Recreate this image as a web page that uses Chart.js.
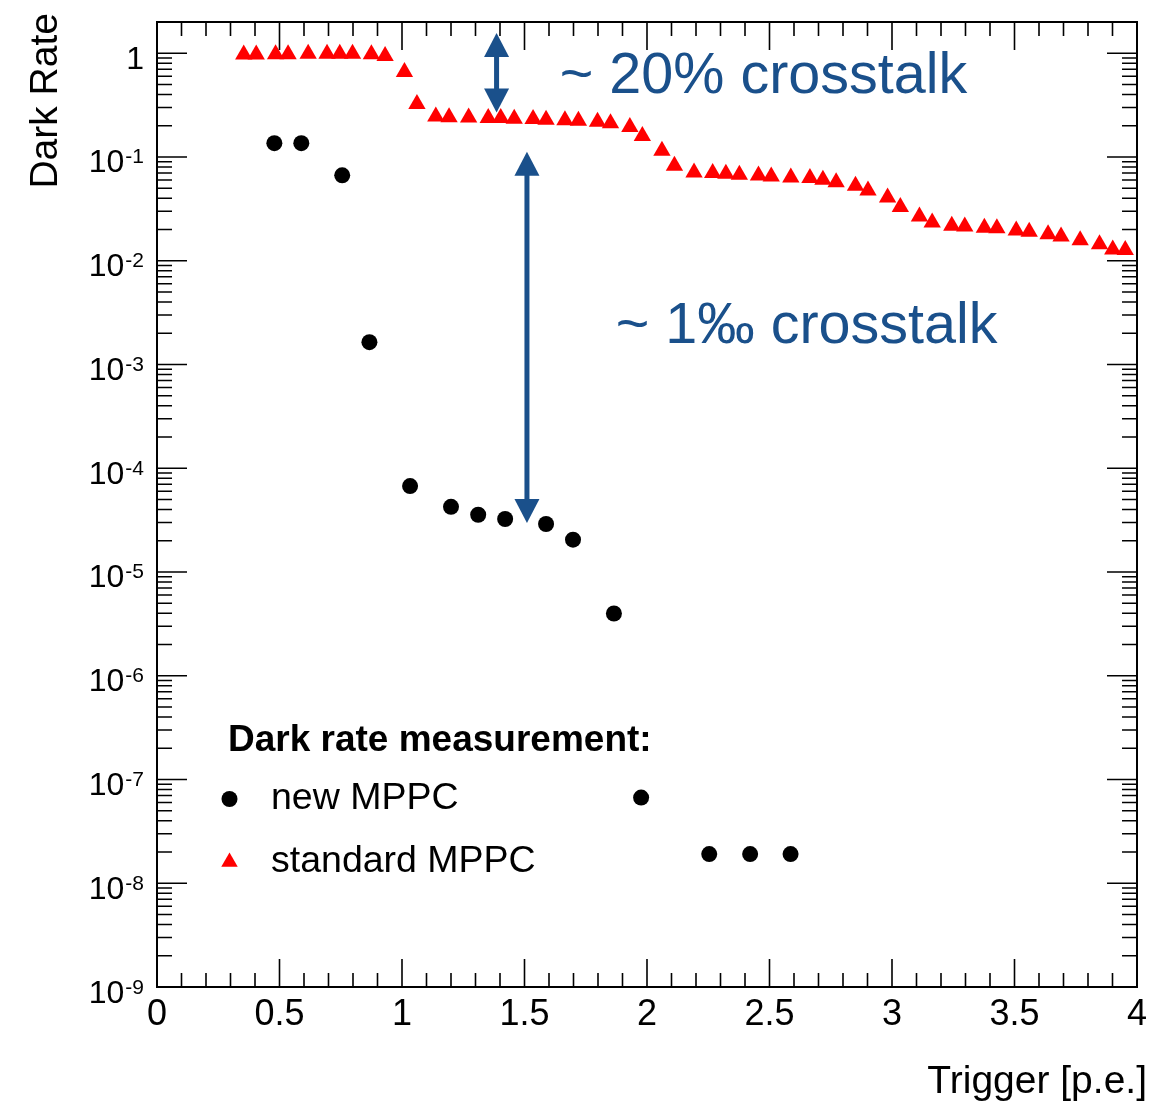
<!DOCTYPE html>
<html lang="en">
<head>
  <meta charset="UTF-8" />
  <title>Dark Rate vs Trigger</title>
  <script src="https://cdn.jsdelivr.net/npm/chart.js"></script>
  <style>
    html, body { margin: 0; padding: 0; background: #fff; }
    #chart { display: block; }
  </style>
</head>
<body>
  <canvas id="chart" width="1160" height="1104"></canvas>

  <script>
    // new MPPC (black circles)
    const newTrigger = [0.479, 0.589, 0.756, 0.867, 1.033, 1.200, 1.311, 1.421, 1.588, 1.698, 1.865, 1.976, 2.254, 2.421, 2.586];
    const newRate = [0.136, 0.136, 0.0666, 1.64e-3, 6.73e-5, 4.25e-5, 3.56e-5, 3.24e-5, 2.90e-5, 2.05e-5, 3.98e-6, 6.70e-8, 1.91e-8, 1.91e-8, 1.91e-8];

    // standard MPPC (red triangles)
    const stdTrigger = [0.354, 0.405, 0.484, 0.535, 0.617, 0.694, 0.746, 0.798, 0.875, 0.931,
      1.010, 1.061, 1.138, 1.192, 1.272, 1.352, 1.403, 1.458, 1.535, 1.588,
      1.665, 1.720, 1.798, 1.851, 1.930, 1.981, 2.061, 2.112, 2.192, 2.268,
      2.322, 2.377, 2.455, 2.507, 2.587, 2.665, 2.718, 2.772, 2.851, 2.902,
      2.982, 3.034, 3.112, 3.164, 3.244, 3.297, 3.377, 3.428, 3.507, 3.560,
      3.637, 3.690, 3.768, 3.847, 3.901, 3.952];
    const stdRate = [0.97, 0.97, 0.98, 0.98, 0.99, 0.99, 0.99, 0.99, 0.98, 0.94,
      0.66, 0.324, 0.245, 0.242, 0.240, 0.237, 0.237, 0.233, 0.232, 0.229,
      0.226, 0.223, 0.218, 0.212, 0.194, 0.159, 0.1146, 0.0824, 0.0710, 0.0700,
      0.0688, 0.0675, 0.0664, 0.0650, 0.0633, 0.0626, 0.0604, 0.0571, 0.0528, 0.0476,
      0.0406, 0.0330, 0.0267, 0.0234, 0.0217, 0.0214, 0.0208, 0.0206, 0.0196, 0.0190,
      0.0180, 0.0171, 0.0158, 0.0144, 0.0128, 0.0127];

    const xTickValues = [0, 0.5, 1, 1.5, 2, 2.5, 3, 3.5, 4];
    const yDecades = [0, -1, -2, -3, -4, -5, -6, -7, -8, -9];

    // annotations, in data units
    const arrowX = [1.386, 1.510];
    const arrowFrom = [1.57, 0.1125];
    const arrowTo = [0.268, 2.97e-5];
    const noteText = ['~ 20% crosstalk', '~ 1\u2030 crosstalk'];
    const noteX = [1.644, 1.872];
    const noteY = [0.416, 1.6e-3];

    const FONT = "'Liberation Sans', Arial, Helvetica, sans-serif";
    const BLUE = '#1a508b';

    function triangle(ctx, x, y, r) {
      ctx.beginPath();
      ctx.moveTo(x, y - r);
      ctx.lineTo(x + r * 0.866, y + r * 0.5);
      ctx.lineTo(x - r * 0.866, y + r * 0.5);
      ctx.closePath();
      ctx.fill();
    }

    function drawArrow(ctx, px, y1, y2) {
      const head = 24, half = 12.5;
      ctx.fillStyle = BLUE;
      ctx.fillRect(px - 2.5, y1 + head - 2, 5, y2 - y1 - 2 * head + 4);
      ctx.beginPath();
      ctx.moveTo(px, y1);
      ctx.lineTo(px + half, y1 + head);
      ctx.lineTo(px - half, y1 + head);
      ctx.closePath();
      ctx.fill();
      ctx.beginPath();
      ctx.moveTo(px, y2);
      ctx.lineTo(px + half, y2 - head);
      ctx.lineTo(px - half, y2 - head);
      ctx.closePath();
      ctx.fill();
    }

    // ROOT-like frame: ticks inside on all four sides, labels, annotations
    const rootStyle = {
      id: 'rootStyle',
      afterDatasetsDraw(chart) {
        const { ctx, chartArea: a, scales: { x, y } } = chart;
        ctx.save();

        // arrows
        arrowX.forEach((v, i) => {
          drawArrow(ctx, x.getPixelForValue(v), y.getPixelForValue(arrowFrom[i]), y.getPixelForValue(arrowTo[i]));
        });

        // crosstalk notes
        ctx.fillStyle = BLUE;
        ctx.font = `57.5px ${FONT}`;
        ctx.textAlign = 'left';
        ctx.textBaseline = 'alphabetic';
        noteText.forEach((t, i) => {
          ctx.fillText(t, x.getPixelForValue(noteX[i]), y.getPixelForValue(noteY[i]));
        });

        // frame
        ctx.strokeStyle = '#000';
        ctx.lineWidth = 2;
        ctx.strokeRect(a.left, a.top, a.right - a.left, a.bottom - a.top);

        // x ticks (minor every 0.1, major every 0.5)
        ctx.lineWidth = 1.6;
        ctx.beginPath();
        for (let i = 1; i < 40; i++) {
          const px = x.getPixelForValue(i / 10);
          const len = i % 5 === 0 ? 28 : 14;
          ctx.moveTo(px, a.bottom); ctx.lineTo(px, a.bottom - len);
          ctx.moveTo(px, a.top); ctx.lineTo(px, a.top + len);
        }
        // y ticks (log)
        yDecades.forEach(e => {
          for (let m = 1; m <= 9; m++) {
            const v = m * Math.pow(10, e);
            if (v >= y.max) break;
            const py = y.getPixelForValue(v);
            const len = m === 1 ? 30 : 15;
            ctx.moveTo(a.left, py); ctx.lineTo(a.left + len, py);
            ctx.moveTo(a.right, py); ctx.lineTo(a.right - len, py);
          }
        });
        ctx.stroke();
        ctx.restore();
      },
      afterDraw(chart) {
        const { ctx, chartArea: a, scales: { y } } = chart;
        ctx.save();
        ctx.fillStyle = '#000';
        ctx.textBaseline = 'alphabetic';
        ctx.textAlign = 'right';

        // y tick labels with superscript exponent
        const right = a.left - 13;
        yDecades.forEach(e => {
          const base = y.getPixelForValue(Math.pow(10, e)) + 15.5;
          if (e === 0) {
            ctx.font = `32px ${FONT}`;
            ctx.fillText('1', right, base);
            return;
          }
          const exp = String(e);
          ctx.font = `21px ${FONT}`;
          const w = ctx.measureText(exp).width;
          ctx.fillText(exp, right, base - 9);
          ctx.font = `32px ${FONT}`;
          ctx.fillText('10', right - w - 1, base);
        });

        // axis titles
        ctx.font = `39px ${FONT}`;
        ctx.fillText('Trigger [p.e.]', a.right + 10, 1093);
        ctx.save();
        ctx.translate(57, 13);
        ctx.rotate(-Math.PI / 2);
        ctx.textAlign = 'right';
        ctx.fillText('Dark Rate', 0, 0);
        ctx.restore();

        // legend
        const lx = a.left + 71;
        ctx.textAlign = 'left';
        ctx.font = `bold 37px ${FONT}`;
        ctx.fillText('Dark rate measurement:', lx, 751);
        ctx.font = `37.5px ${FONT}`;
        ctx.fillText('new MPPC', lx + 43, 809);
        ctx.fillText('standard MPPC', lx + 43, 872);
        ctx.beginPath();
        ctx.arc(lx + 1.5, 799, 8, 0, Math.PI * 2);
        ctx.fill();
        ctx.fillStyle = '#ff0000';
        triangle(ctx, lx + 1.5, 862, 9.5);
        ctx.restore();
      }
    };

    new Chart(document.getElementById('chart'), {
      type: 'scatter',
      data: {
        datasets: [
          {
            label: 'new MPPC',
            data: newTrigger.map((t, i) => ({ x: t, y: newRate[i] })),
            pointStyle: 'circle',
            pointRadius: 8,
            pointBorderWidth: 0,
            backgroundColor: '#000000',
            borderColor: '#000000'
          },
          {
            label: 'standard MPPC',
            data: stdTrigger.map((t, i) => ({ x: t, y: stdRate[i] })),
            pointStyle: 'triangle',
            pointRadius: 10,
            pointBorderWidth: 0,
            backgroundColor: '#ff0000',
            borderColor: '#ff0000'
          }
        ]
      },
      options: {
        responsive: false,
        animation: false,
        devicePixelRatio: 1,
        layout: { padding: { top: 22, right: 23, left: 0, bottom: 0 } },
        plugins: {
          legend: { display: false },
          tooltip: { enabled: false }
        },
        scales: {
          x: {
            type: 'linear',
            min: 0,
            max: 4,
            grid: { display: false, drawTicks: false },
            border: { display: false },
            afterBuildTicks: scale => { scale.ticks = xTickValues.map(v => ({ value: v })); },
            afterFit: scale => { scale.height = 117; },
            ticks: {
              color: '#000',
              padding: 6,
              maxRotation: 0,
              autoSkip: false,
              font: { family: FONT, size: 36 },
              callback: v => String(v)
            }
          },
          y: {
            type: 'logarithmic',
            min: 1e-9,
            max: 2,
            grid: { display: false, drawTicks: false },
            border: { display: false },
            afterFit: scale => { scale.width = 157; },
            ticks: { display: false }
          }
        }
      },
      plugins: [rootStyle]
    });
  </script>
</body>
</html>
